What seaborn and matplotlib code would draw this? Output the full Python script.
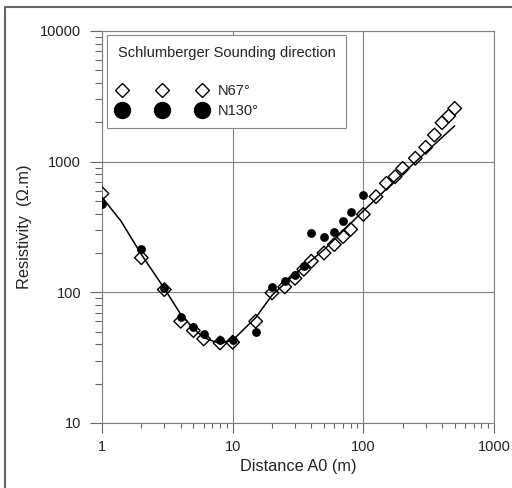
import numpy as np
import pandas as pd
import matplotlib
matplotlib.use("Agg")
import matplotlib.pyplot as plt
import seaborn as sns
from matplotlib.lines import Line2D
from matplotlib.ticker import FuncFormatter, NullFormatter, LogLocator

# ---- data ----
n67_dist = [1, 2, 3, 4, 5, 6, 8, 10, 15, 20, 25, 30, 35, 40, 50, 60, 70, 80, 100,
            125, 150, 175, 200, 250, 300, 350, 400, 450, 500]
n67_res = [570, 184, 105, 60, 51, 44, 41, 41.5, 60, 99, 110, 128, 150, 173, 200, 232,
           267, 303, 395, 540, 683, 767, 889, 1062, 1288, 1600, 1986, 2233, 2558]

n130_dist = [1, 2, 3, 4, 5, 6, 8, 10, 15, 20, 25, 30, 35, 40, 50, 60, 70, 80, 100]
n130_res = [474, 215, 108, 65, 54, 48, 43, 43, 50, 110, 123, 136, 159, 286, 264, 291,
            353, 414, 556]

model_dist = [1, 1.4, 2, 3, 4, 5, 6, 8, 10, 15, 20, 30, 50, 100, 200, 500]
model_res = [535, 350, 195, 107, 68, 53, 45, 40.5, 43, 64, 95, 138, 212, 420, 810, 1880]

legend_title = "Schlumberger Sounding direction"
series_labels = ["N67°", "N130°"]
x_label = "Distance A0 (m)"
y_label = "Resistivity  (Ω.m)"

# ---- style ----
sns.set_style("ticks")
plt.rcParams['font.family'] = ['Liberation Sans', 'DejaVu Sans']
plt.rcParams['text.color'] = '#222222'
plt.rcParams['axes.labelcolor'] = '#222222'
plt.rcParams['xtick.color'] = '#666666'
plt.rcParams['ytick.color'] = '#666666'
plt.rcParams['xtick.labelcolor'] = '#222222'
plt.rcParams['ytick.labelcolor'] = '#222222'

fig = plt.figure(figsize=(5.12, 4.88), dpi=100)
ax = fig.add_axes([102 / 512, 1 - 423 / 488, 392 / 512, 392 / 488])
ax.set_xscale('log')
ax.set_yscale('log')

model_df = pd.DataFrame({"dist": model_dist, "res": model_res})
n67_df = pd.DataFrame({"dist": n67_dist, "res": n67_res})
n130_df = pd.DataFrame({"dist": n130_dist, "res": n130_res})

sns.lineplot(data=model_df, x="dist", y="res", ax=ax, color='black', lw=1.1,
             sort=False, estimator=None, zorder=3)
sns.scatterplot(data=n67_df, x="dist", y="res", ax=ax, marker='D', s=48,
                facecolor='none', edgecolor='black', linewidth=1.0, zorder=4)
sns.scatterplot(data=n130_df, x="dist", y="res", ax=ax, marker='o', s=40,
                color='black', edgecolor='black', linewidth=0, zorder=5)

ax.set_xlim(1, 1000)
ax.set_ylim(10, 10000)

fmt = FuncFormatter(lambda v, p: f"{v:g}")
ax.xaxis.set_major_locator(LogLocator(base=10, numticks=10))
ax.yaxis.set_major_locator(LogLocator(base=10, numticks=10))
ax.xaxis.set_major_formatter(fmt)
ax.yaxis.set_major_formatter(fmt)
ax.xaxis.set_minor_formatter(NullFormatter())
ax.yaxis.set_minor_formatter(NullFormatter())

ax.tick_params(axis='both', which='both', direction='out', width=0.8,
               top=False, right=False, bottom=True, left=True)
ax.tick_params(axis='x', which='major', length=7.5, pad=5, labelsize=10.5)
ax.tick_params(axis='x', which='minor', length=3.8)
ax.tick_params(axis='y', which='major', length=9, pad=6, labelsize=10.5)
ax.tick_params(axis='y', which='minor', length=5)

ax.grid(True, which='major', color='#808080', lw=0.8)
ax.grid(False, which='minor')
for sp in ax.spines.values():
    sp.set_visible(True)
    sp.set_color('#808080')
    sp.set_linewidth(0.8)

ax.set_xlabel(x_label, fontsize=11.8, labelpad=3)
ax.set_ylabel(y_label, fontsize=11.8, labelpad=6)

h1 = Line2D([], [], ls='none', marker='D', ms=7, mfc='white', mec='black', mew=1.0)
h2 = Line2D([], [], ls='none', marker='o', ms=11.5, mfc='black', mec='black')
leg = ax.legend([h1, h2], series_labels, title=legend_title, numpoints=3,
                loc='upper left', bbox_to_anchor=(5 / 392, 1 - 4 / 392),
                borderaxespad=0, fancybox=False, framealpha=1, edgecolor='#888888',
                handlelength=6.1, handletextpad=0.75, labelspacing=0.4,
                borderpad=0.72, fontsize=10.5, title_fontsize=10.5, alignment='left')
leg._legend_box.sep = 17.5
leg.get_frame().set_linewidth(0.8)
leg.set_zorder(10)

fig.add_artist(Line2D([5 / 512, 5 / 512, 1.0], [0, 1 - 7 / 488, 1 - 7 / 488],
                      transform=fig.transFigure, color='#666666', lw=1.5))

fig.savefig("out.png", dpi=100)
